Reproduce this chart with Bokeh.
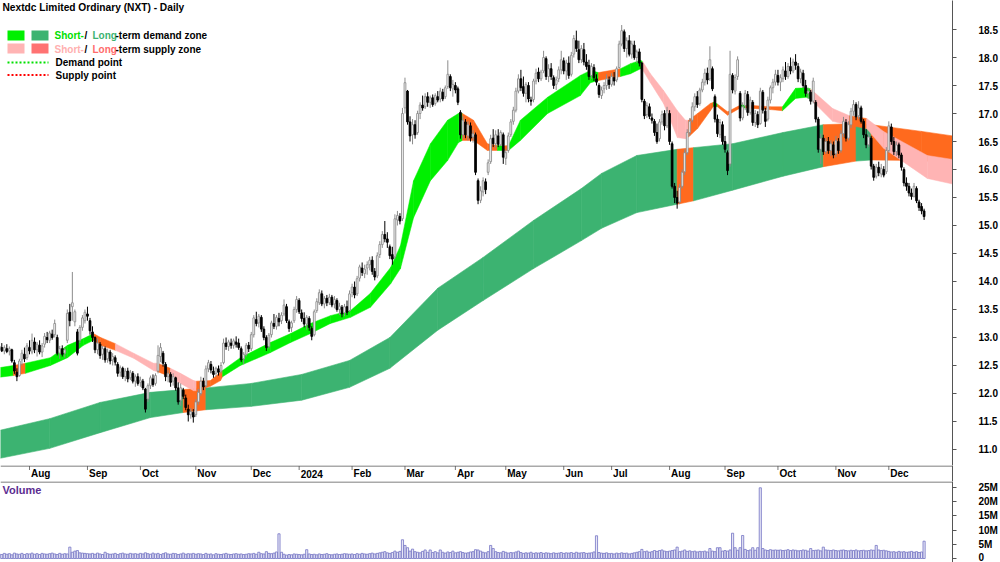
import pandas as pd
from bokeh.plotting import figure
from bokeh.layouts import column
from bokeh.models import Range1d, FixedTicker, Label, Span, PrintfTickFormatter
from bokeh.core.properties import value
from bokeh.embed import file_html
from bokeh.resources import INLINE

# ---------------- data ----------------
holidays = ["2023-12-25", "2023-12-26", "2024-01-01", "2024-01-26",
            "2024-03-29", "2024-04-01", "2024-04-25", "2024-06-10"]
month_labels = ["Aug", "Sep", "Oct", "Nov", "Dec", "2024", "Feb", "Mar", "Apr",
                "May", "Jun", "Jul", "Aug", "Sep", "Oct", "Nov", "Dec"]

opens = [
 12.78,12.82,12.76,12.80,12.76,12.78,12.55,12.38,12.32,12.60,12.70,12.64,
 12.82,12.74,12.92,12.78,12.86,12.74,12.88,13.00,12.95,13.06,13.05,13.00,12.72,12.80,12.72,12.95,13.45,13.55,13.28,13.10,12.95,13.18,13.30,
 13.42,13.30,13.10,13.00,12.78,12.88,12.70,12.80,12.62,12.74,12.60,12.64,12.52,12.38,12.45,12.30,12.40,12.28,12.36,12.22,12.30,
 12.20,12.22,12.08,11.90,12.14,12.26,12.18,12.40,12.66,12.72,12.52,12.30,12.34,12.22,12.28,12.10,11.88,12.06,11.92,11.72,11.62,11.66,
 11.62,11.85,12.00,12.22,12.14,12.44,12.52,12.40,12.36,12.44,12.40,12.55,12.90,12.84,12.90,12.86,12.92,12.90,12.80,12.62,12.70,12.86,
 12.80,13.05,13.32,13.26,13.36,13.15,13.00,12.84,13.05,13.25,13.20,13.34,13.30,13.42,13.55,13.28,13.18,13.30,13.50,
 13.66,13.44,13.34,13.24,13.34,13.16,13.05,13.48,13.62,13.78,13.60,13.70,13.62,13.72,13.60,13.66,13.50,13.54,13.44,13.55,13.48,
 13.80,13.90,13.78,14.06,14.24,14.14,14.24,14.30,14.38,14.18,14.10,14.48,14.66,14.84,14.76,14.62,14.48,14.44,15.10,15.16,15.12,
 17.10,17.40,16.85,16.62,16.80,16.66,17.00,17.15,17.12,17.30,17.20,17.28,17.18,17.30,17.26,17.38,17.30,17.48,17.66,17.44,
 17.50,17.44,17.02,16.62,16.85,16.60,16.78,16.58,16.62,15.80,15.45,15.60,15.78,15.95,16.14,16.56,16.46,16.60,16.44,16.62,
 16.20,16.34,16.62,16.86,17.06,17.40,17.62,17.48,17.36,17.50,17.24,17.25,17.58,17.74,17.62,17.76,17.98,17.66,17.80,17.64,17.52,17.62,17.78,
 17.94,17.76,17.90,17.70,18.06,18.30,18.14,17.96,18.14,17.92,17.86,17.68,17.82,17.62,17.50,17.32,17.44,17.50,17.60,
 17.52,17.64,17.60,17.82,18.24,18.46,18.16,18.30,18.06,18.22,18.00,18.10,17.90,17.22,16.98,17.12,16.92,16.86,16.66,16.55,16.85,17.00,16.78,
 17.00,16.46,15.70,15.50,15.42,15.70,15.96,16.30,16.66,16.88,17.12,17.30,17.18,17.42,17.56,17.72,17.62,17.80,17.30,16.90,16.62,16.80,
 16.50,16.30,16.10,17.68,17.40,17.66,17.36,16.92,17.14,17.34,17.02,17.20,16.84,16.98,16.82,17.38,17.04,16.90,17.24,17.46,17.56,
 17.68,17.56,17.62,17.76,17.66,17.84,17.76,17.92,17.84,17.62,17.72,17.50,17.36,17.38,17.22,17.20,16.90,16.36,16.56,16.32,16.50,16.34,16.44,
 16.28,16.50,16.34,16.64,16.84,16.56,16.80,17.04,17.16,16.96,17.10,16.86,16.62,16.44,16.56,16.06,15.88,16.04,15.92,16.00,15.96,
 16.34,16.76,16.50,16.32,16.44,16.26,16.00,15.76,15.70,15.58,15.52,15.66,15.42,15.34,15.26]

highs = [
 12.88,12.90,12.86,12.88,12.84,12.80,12.60,12.45,12.62,12.78,12.82,12.90,
 12.95,13.07,13.00,12.92,12.95,12.90,13.08,13.10,13.12,13.14,13.32,13.05,12.85,12.86,12.82,13.50,13.60,14.17,13.50,13.15,13.22,13.40,13.50,
 13.55,13.35,13.20,13.02,12.98,12.92,12.85,12.84,12.80,12.78,12.72,12.68,12.56,12.50,12.48,12.45,12.46,12.42,12.40,12.34,12.36,
 12.30,12.26,12.10,12.18,12.32,12.34,12.36,12.86,12.90,12.76,12.56,12.42,12.38,12.36,12.30,12.20,12.18,12.10,11.98,11.80,11.74,11.72,
 11.90,12.08,12.30,12.28,12.50,12.60,12.58,12.48,12.48,12.50,12.56,12.98,13.00,12.96,12.98,12.98,13.02,12.98,12.84,12.74,12.90,12.92,
 13.10,13.40,13.46,13.42,13.40,13.20,13.04,13.08,13.30,13.42,13.40,13.44,13.45,13.68,13.60,13.32,13.30,13.55,13.74,
 13.70,13.50,13.45,13.40,13.38,13.20,13.50,13.70,13.86,13.84,13.74,13.76,13.78,13.76,13.74,13.70,13.62,13.58,13.60,13.66,13.84,
 13.96,14.00,14.10,14.30,14.34,14.30,14.36,14.44,14.45,14.24,14.52,14.72,14.90,15.08,14.88,14.66,14.62,15.20,15.26,15.22,17.10,
 17.64,17.42,16.95,16.90,16.88,17.05,17.20,17.32,17.36,17.38,17.32,17.34,17.36,17.40,17.46,17.44,17.50,17.95,17.70,17.60,
 17.56,17.48,17.06,16.95,16.90,16.86,16.84,16.70,16.66,15.84,15.70,15.86,15.84,16.18,16.62,16.72,16.70,16.72,16.70,16.66,
 16.36,16.66,16.90,17.12,17.46,17.70,17.78,17.66,17.56,17.56,17.30,17.62,17.80,17.82,17.78,18.12,18.02,17.88,17.90,17.68,17.66,17.84,18.12,
 18.00,17.96,18.02,18.10,18.40,18.48,18.30,18.22,18.26,18.06,17.96,17.90,17.88,17.70,17.54,17.48,17.56,17.70,17.66,
 17.72,17.74,17.84,18.30,18.58,18.50,18.36,18.40,18.30,18.30,18.14,18.16,17.92,17.26,17.20,17.18,17.00,16.90,16.82,16.90,17.05,17.06,17.12,
 17.06,16.50,15.76,15.62,15.74,16.00,16.36,16.72,16.92,17.20,17.36,17.40,17.46,17.62,17.80,17.82,18.20,17.84,17.34,16.98,16.90,16.86,
 16.60,16.34,18.12,17.72,17.70,18.02,17.40,17.20,17.42,17.40,17.30,17.24,17.06,17.04,17.46,17.42,17.10,17.30,17.50,17.62,17.78,
 17.78,17.70,17.84,17.92,17.90,18.00,17.98,18.06,17.90,17.80,17.78,17.60,17.46,17.42,17.64,17.24,16.94,16.64,16.62,16.56,16.58,16.52,16.50,
 16.60,16.56,16.70,16.94,16.90,16.86,17.10,17.24,17.20,17.22,17.14,16.90,16.72,16.64,16.60,16.10,16.10,16.14,16.10,16.06,16.40,
 16.86,16.82,16.58,16.50,16.48,16.30,16.04,15.86,15.76,15.66,15.76,15.70,15.46,15.40,15.30]

lows = [
 12.72,12.74,12.70,12.72,12.68,12.55,12.35,12.22,12.30,12.50,12.56,12.60,
 12.70,12.70,12.72,12.66,12.70,12.65,12.82,12.90,12.90,12.96,13.00,12.68,12.62,12.66,12.64,12.90,13.20,13.30,13.20,12.68,12.90,13.12,13.25,
 13.30,13.05,12.92,12.72,12.70,12.62,12.60,12.55,12.55,12.52,12.50,12.50,12.30,12.30,12.26,12.22,12.20,12.24,12.18,12.12,12.14,
 12.12,12.06,11.66,11.85,12.08,12.12,12.14,12.36,12.56,12.48,12.22,12.20,12.12,12.14,12.05,11.80,11.78,11.90,11.70,11.50,11.55,11.48,
 11.58,11.80,11.96,12.06,12.10,12.38,12.36,12.28,12.30,12.32,12.36,12.52,12.78,12.76,12.80,12.80,12.82,12.78,12.56,12.52,12.66,12.74,
 12.76,13.00,13.20,13.18,13.10,12.95,12.76,12.80,13.00,13.15,13.14,13.20,13.24,13.38,13.26,13.10,13.10,13.26,13.44,
 13.42,13.28,13.18,13.14,13.12,12.95,13.02,13.44,13.58,13.56,13.52,13.56,13.58,13.54,13.52,13.46,13.40,13.36,13.38,13.40,13.46,
 13.72,13.70,13.74,14.00,14.10,14.06,14.12,14.20,14.12,14.02,14.06,14.42,14.60,14.70,14.60,14.40,14.30,14.40,15.00,15.02,15.08,
 17.00,16.80,16.50,16.45,16.55,16.62,16.90,17.05,17.08,17.12,17.10,17.12,17.14,17.20,17.20,17.22,17.26,17.44,17.40,17.30,
 17.36,17.15,16.55,16.55,16.56,16.52,16.50,16.48,15.90,15.38,15.40,15.52,15.56,15.90,16.10,16.40,16.38,16.40,16.42,16.10,
 16.08,16.30,16.58,16.80,17.02,17.36,17.40,17.30,17.20,17.20,17.14,17.20,17.52,17.56,17.58,17.72,17.60,17.56,17.60,17.44,17.42,17.56,17.70,
 17.70,17.60,17.62,17.66,18.00,18.10,17.90,17.90,17.86,17.78,17.60,17.62,17.58,17.50,17.28,17.26,17.36,17.42,17.44,
 17.48,17.50,17.56,17.80,18.20,18.10,18.00,18.02,17.98,17.96,17.90,17.84,17.20,16.90,16.92,16.90,16.82,16.60,16.46,16.50,16.80,16.70,16.74,
 16.44,15.66,15.40,15.30,15.38,15.66,15.90,16.26,16.60,16.84,17.04,17.10,17.14,17.38,17.50,17.52,17.58,17.40,16.84,16.58,16.56,16.44,
 16.30,15.90,16.05,17.36,17.34,17.60,16.86,16.88,17.06,16.96,16.98,16.78,16.76,16.74,16.80,17.00,16.76,16.86,17.18,17.36,17.50,
 17.50,17.40,17.56,17.60,17.62,17.70,17.72,17.78,17.56,17.54,17.46,17.30,17.26,17.16,17.18,16.84,16.30,16.10,16.26,16.28,16.28,16.24,16.20,
 16.22,16.28,16.30,16.58,16.50,16.52,16.74,16.96,16.88,16.90,16.82,16.56,16.38,16.40,16.00,15.80,15.84,15.88,15.86,15.86,15.92,
 16.30,16.44,16.26,16.24,16.20,15.98,15.70,15.62,15.52,15.46,15.50,15.40,15.26,15.20,15.10]

closes = [
 12.84,12.76,12.82,12.75,12.80,12.58,12.40,12.30,12.58,12.72,12.62,12.85,
 12.76,12.95,12.78,12.88,12.74,12.85,13.02,12.96,13.08,13.00,13.25,12.72,12.80,12.70,12.78,13.43,13.30,13.62,13.46,12.72,13.18,13.35,13.45,
 13.38,13.12,13.00,12.78,12.90,12.68,12.80,12.60,12.74,12.58,12.66,12.56,12.36,12.46,12.30,12.40,12.26,12.38,12.22,12.30,12.18,
 12.24,12.10,11.72,12.14,12.28,12.16,12.32,12.68,12.82,12.54,12.30,12.36,12.20,12.30,12.10,11.85,12.10,11.95,11.75,11.62,11.68,11.58,
 11.85,12.02,12.22,12.12,12.44,12.55,12.42,12.34,12.45,12.38,12.50,12.90,12.84,12.92,12.86,12.94,12.88,12.82,12.60,12.70,12.86,12.80,
 13.05,13.35,13.25,13.38,13.15,13.00,12.82,13.04,13.26,13.20,13.36,13.28,13.40,13.58,13.30,13.16,13.26,13.50,13.68,
 13.46,13.34,13.24,13.36,13.18,13.02,13.46,13.64,13.80,13.60,13.70,13.62,13.72,13.58,13.68,13.50,13.56,13.42,13.55,13.45,13.78,
 13.90,13.76,14.05,14.26,14.16,14.22,14.30,14.38,14.18,14.08,14.46,14.66,14.84,14.76,14.70,14.46,14.40,15.12,15.18,15.08,17.00,
 17.55,16.85,16.60,16.80,16.62,17.00,17.15,17.10,17.30,17.20,17.28,17.16,17.32,17.24,17.40,17.26,17.46,17.70,17.46,17.52,
 17.42,17.20,16.62,16.88,16.62,16.80,16.56,16.64,15.95,15.45,15.62,15.80,15.64,16.12,16.55,16.46,16.62,16.45,16.66,16.22,
 16.30,16.60,16.85,17.06,17.40,17.62,17.46,17.36,17.52,17.26,17.22,17.58,17.72,17.62,17.74,18.00,17.66,17.80,17.66,17.50,17.60,17.78,17.96,
 17.76,17.90,17.68,18.04,18.34,18.16,17.96,18.16,17.92,17.84,17.66,17.84,17.64,17.56,17.34,17.42,17.50,17.62,17.52,
 17.66,17.58,17.80,18.24,18.48,18.16,18.30,18.06,18.24,18.00,18.10,17.90,17.25,16.96,17.14,16.95,16.88,16.66,16.50,16.85,16.98,16.78,17.05,
 16.50,15.70,15.50,15.40,15.68,15.95,16.30,16.66,16.86,17.12,17.30,17.16,17.42,17.56,17.72,17.60,17.96,17.44,16.90,16.64,16.84,16.50,
 16.36,15.98,17.70,17.42,17.64,17.96,16.92,17.12,17.36,17.02,17.24,16.84,17.00,16.80,17.40,17.06,16.86,17.24,17.46,17.56,17.70,
 17.56,17.64,17.78,17.66,17.84,17.76,17.92,17.86,17.62,17.74,17.50,17.36,17.40,17.22,17.58,16.90,16.36,16.56,16.32,16.50,16.34,16.46,16.26,
 16.52,16.34,16.64,16.86,16.56,16.80,17.04,17.16,16.94,17.10,16.86,16.62,16.44,16.58,16.06,15.86,16.04,15.94,16.02,15.90,16.34,
 16.78,16.50,16.32,16.44,16.26,16.04,15.76,15.70,15.58,15.52,15.70,15.44,15.32,15.26,15.16]

volume_m = [
 1.6,1.4,1.8,1.5,1.7,1.3,1.9,1.6,1.5,1.8,1.4,1.7,
 1.6,1.9,1.5,1.7,1.4,1.8,1.6,1.5,1.7,1.9,1.6,1.4,1.8,1.5,1.7,1.6,4.0,2.2,2.6,2.8,2.0,1.9,1.8,
 1.7,1.6,1.8,1.5,1.9,1.6,1.4,2.2,1.7,1.5,1.6,1.8,1.4,1.7,1.9,1.6,1.5,1.8,1.6,1.7,1.5,
 1.8,1.6,2.0,1.7,1.5,1.9,1.6,1.8,1.4,1.7,2.0,1.6,1.5,1.8,1.7,1.4,1.6,1.9,1.5,1.7,1.6,1.8,
 1.5,1.7,1.6,1.4,1.8,1.5,1.6,1.3,1.7,1.5,1.4,1.6,1.8,1.5,1.4,1.6,1.7,1.5,1.6,1.4,1.5,1.7,
 1.6,1.8,1.5,2.2,1.7,1.6,2.4,1.8,1.7,1.9,2.3,8.7,2.2,1.5,1.2,1.4,1.3,1.6,1.5,
 1.4,1.3,1.5,3.1,1.6,1.4,1.5,1.3,1.6,1.4,1.5,1.7,1.4,1.3,1.5,1.6,1.4,1.5,1.7,1.6,1.5,
 1.6,1.4,1.7,1.5,1.8,1.6,1.5,1.7,1.9,1.6,1.8,2.0,2.2,2.4,2.0,1.8,2.1,2.6,2.2,2.5,6.6,
 4.6,3.8,2.6,3.3,2.4,2.2,2.0,2.5,3.0,2.2,3.0,2.1,2.4,2.0,3.0,2.2,1.9,2.3,2.1,2.6,
 2.0,2.2,2.4,2.1,1.9,2.0,2.3,2.4,3.1,3.0,2.6,2.2,2.0,2.4,4.6,3.5,2.4,2.1,2.0,2.5,
 2.2,1.9,2.1,2.0,2.3,2.6,2.1,1.8,2.0,1.9,2.2,1.8,2.0,1.9,2.1,1.8,2.0,1.9,1.7,2.0,1.8,1.9,2.1,
 1.8,2.0,1.9,2.1,1.8,2.2,1.9,2.0,2.1,1.8,1.9,2.0,2.3,8.0,2.1,1.9,1.8,2.0,1.7,
 1.8,1.6,1.9,1.7,2.0,1.8,1.9,1.6,1.8,2.0,2.2,2.4,3.2,2.4,2.6,2.2,2.4,2.8,2.5,2.8,3.0,2.6,2.4,
 2.6,2.8,3.0,4.0,2.4,2.6,3.0,2.5,2.7,2.4,2.6,2.3,2.5,2.4,2.6,2.3,3.5,2.6,2.4,3.8,3.8,2.6,
 2.8,2.6,3.0,8.9,3.8,2.9,3.8,8.1,3.2,2.8,3.0,3.8,2.9,3.8,24.9,3.5,3.0,2.8,3.1,2.9,3.0,
 2.9,3.0,2.8,2.9,3.1,2.8,3.0,2.9,2.7,2.8,3.0,2.9,2.6,3.5,2.8,2.9,3.0,2.7,4.0,3.0,2.9,2.8,3.0,
 2.8,2.7,2.9,3.0,2.8,2.7,2.9,2.8,3.0,2.7,2.8,2.9,2.7,2.8,3.0,2.9,4.6,3.0,2.8,2.9,2.7,
 2.5,2.3,2.4,2.2,2.5,2.3,2.4,2.2,2.3,2.5,2.2,2.4,2.1,2.3,6.1]

# short-term zone (x = trading-day index), upper / lower edge, state of following segment
st_x = [0, 5.6, 10.4, 20.3, 27.1, 33.4, 37.4, 40.2, 46.1, 53.3,
        61.2, 62.8, 67.9, 71.9, 77.1, 78.3, 83.8, 87.8, 88.6, 95.7,
        107.6, 115.6, 123.5, 131.4, 139.4, 147.3, 155.3, 159.2, 164.4, 171.1,
        177.9, 182.2, 183.8, 188.2, 193.7, 197.7, 200.0, 202.1, 206.8, 217.6,
        230.6, 234.6, 237.8, 246.5, 250.5, 254.5, 255.3, 258.4, 263.6, 269.1,
        272.3, 273.5, 277.1, 282.2, 283.4, 285.0, 289.0, 294.1, 296.1, 306.0,
        310.8, 316.0, 320.3, 321.9, 330.7, 337.4, 344.2, 350.9, 368.3, 378.3]
st_hi = [12.46,12.50,12.54,12.64,12.86,12.98,13.07,13.00,12.89,12.72,
         12.54,12.54,12.45,12.36,12.23,12.22,12.23,12.38,12.41,12.64,
         12.91,13.07,13.25,13.39,13.48,13.79,14.25,14.64,15.80,16.46,
         16.88,17.00,17.00,16.88,16.46,16.43,16.42,16.43,16.88,17.29,
         17.68,17.77,17.73,17.80,17.89,17.95,17.93,17.71,17.41,17.05,
         16.88,16.88,17.00,17.18,17.20,17.17,17.03,17.15,17.15,17.12,
         17.12,17.45,17.46,17.44,17.09,16.96,16.91,16.68,16.25,16.18]
st_lo = [12.29,12.32,12.36,12.50,12.64,12.86,12.95,12.86,12.77,12.63,
         12.41,12.39,12.30,12.18,12.05,12.05,12.13,12.23,12.30,12.50,
         12.73,12.91,13.07,13.25,13.36,13.54,13.96,14.23,15.14,15.80,
         16.16,16.48,16.52,16.52,16.34,16.34,16.34,16.34,16.52,17.00,
         17.32,17.55,17.59,17.66,17.71,17.80,17.78,17.55,17.18,16.57,
         16.55,16.58,16.73,17.05,17.13,17.12,16.97,17.10,17.10,17.07,
         17.05,17.27,17.29,17.26,16.86,16.79,16.73,16.38,15.84,15.74]
st_state = list("goggggoopp" "popppooogg" "gggggggggg" "ggooogoggg"
                "ggogggpppp" "pooogoogoo" "gggppoppp")

# long-term zone
lt_x = [0, 20, 40, 60, 73, 82, 100, 120, 139, 155, 174, 192, 212, 231, 239,
        253, 269, 275.5, 291, 311, 327, 340, 346, 366, 378.3]
lt_hi = [11.34, 11.55, 11.84, 12.02, 12.07, 12.10, 12.18, 12.34, 12.59, 13.00,
         13.88, 14.43, 15.09, 15.66, 15.93, 16.25, 16.36, 16.39, 16.46, 16.66,
         16.80, 16.82, 16.80, 16.68, 16.60]
lt_lo = [10.84, 11.02, 11.30, 11.57, 11.66, 11.71, 11.77, 11.88, 12.11, 12.45,
         13.13, 13.66, 14.23, 14.73, 14.95, 15.23, 15.38, 15.44, 15.63, 15.88,
         16.05, 16.15, 16.17, 16.16, 16.10]
lt_state = list("gggg" "s" "ggggggggggg" "s" "ggg" "s" "g" "ss")

price_ticks = [11.0, 11.5, 12.0, 12.5, 13.0, 13.5, 14.0, 14.5, 15.0, 15.5, 16.0, 16.5, 17.0, 17.5, 18.0, 18.5]
vol_ticks = [0, 5000000, 10000000, 15000000, 20000000, 25000000]
vol_labels = ["0", "5M", "10M", "15M", "20M", "25M"]

# ---------------- derived ----------------
dates = pd.bdate_range("2023-07-14", "2024-12-20")
dates = dates[~dates.isin(pd.to_datetime(holidays))]
n = len(closes)
for name, arr in [("opens", opens), ("highs", highs), ("lows", lows), ("volume", volume_m)]:
    assert len(arr) == n, (name, len(arr), n)
assert len(dates) == n, (len(dates), n)
idx = list(range(n))
month_ticks = [i for i in range(1, n) if dates[i].month != dates[i - 1].month]

FONT = "Liberation Sans"
X0, X1 = 0.49, 378.27
Y0, Y1 = 10.714, 19.018
FW, FH = 952.0, 465.0
AX = "#555555"


def sx(px):
    return X0 + px * (X1 - X0) / FW


def sy(py):
    return Y1 - py * (Y1 - Y0) / FH


def style_right_axis(ax):
    ax.axis_line_color = AX
    ax.major_tick_line_color = AX
    ax.major_tick_in = 0
    ax.major_tick_out = 4
    ax.major_label_standoff = 22
    ax.major_label_text_font = FONT
    ax.major_label_text_font_style = "bold"
    ax.major_label_text_font_size = "10px"
    ax.major_label_text_color = "black"


# ---------------- price panel ----------------
p = figure(width=1000, height=465, x_range=Range1d(X0, X1), y_range=Range1d(Y0, Y1),
           output_backend="svg", toolbar_location=None, y_axis_location="right",
           x_axis_location=None,
           min_border_left=0, min_border_right=48, min_border_top=0, min_border_bottom=0)
p.outline_line_color = None
p.grid.visible = False

GREEN_S = "#00F000"
GREEN_L = "#3CB371"
PINK = "#FFB4B4"
ORANGE = "#FF6A1E"
st_colors = {"g": GREEN_S, "p": PINK, "o": ORANGE}
lt_colors = {"g": GREEN_L, "s": ORANGE}


def band(xs, his, los, states, cmap):
    pxs, pys, cols = [], [], []
    for k in range(len(xs) - 1):
        pxs.append([xs[k], xs[k], xs[k + 1], xs[k + 1]])
        pys.append([los[k], his[k], his[k + 1], los[k + 1]])
        cols.append(cmap[states[k]])
    return pxs, pys, cols


lx, ly, lc = band(lt_x, lt_hi, lt_lo, lt_state, lt_colors)
p.patches(lx, ly, fill_color=lc, line_color=lc, line_width=0.6)
sxs, sys_, sc = band(st_x, st_hi, st_lo, st_state, st_colors)
p.patches(sxs, sys_, fill_color=sc, line_color=sc, line_width=0.5)

up = [c >= o for o, c in zip(opens, closes)]
GREY = "#8c8c8c"
wick_col = [GREY if u else "black" for u in up]
p.segment(x0=idx, y0=lows, x1=idx, y1=highs, line_color=wick_col, line_width=1)
tops = [max(o, c) for o, c in zip(opens, closes)]
bots = [min(o, c) for o, c in zip(opens, closes)]
p.vbar(x=idx, width=0.7, top=tops, bottom=bots,
       fill_color=["white" if u else "black" for u in up],
       line_color=[GREY if u else "black" for u in up], line_width=0.9)

ya = p.yaxis[0]
ya.ticker = FixedTicker(ticks=price_ticks, minor_ticks=[])
ya.formatter = PrintfTickFormatter(format="%.1f")
style_right_axis(ya)


def lab(px, py, text, color="black", size="10px"):
    p.add_layout(Label(x=sx(px), y=sy(py), text=text, text_color=color, text_font=FONT,
                       text_font_style="bold", text_font_size=size,
                       text_baseline="middle", text_align="left"))


lab(2, 7, "Nextdc Limited Ordinary (NXT) - Daily", size="10.2px")
p.quad(left=[sx(7), sx(31), sx(7), sx(31)], right=[sx(24), sx(48), sx(24), sx(48)],
       top=[sy(30), sy(30), sy(43), sy(43)], bottom=[sy(40), sy(40), sy(53), sy(53)],
       fill_color=[GREEN_S, GREEN_L, "#FFB4B4", "#FF7272"], line_color=None)
p.line([sx(7), sx(48)], [sy(62), sy(62)], line_color="#00E000", line_width=2, line_dash="2 2")
p.line([sx(7), sx(48)], [sy(74.5), sy(74.5)], line_color="#FF0000", line_width=2, line_dash="2 2")
lab(54, 35, "Short-", "#00E000")
lab(84, 35, "/")
lab(92, 35, "Long", GREEN_L)
lab(115, 35, "-term demand zone")
lab(54, 48.5, "Short-", "#FFB0B0")
lab(84, 48.5, "/")
lab(92, 48.5, "Long", "#FF6B6B")
lab(115, 48.5, "-term supply zone")
lab(55, 62, "Demand point")
lab(55, 74.5, "Supply point")

# ---------------- month label strip ----------------
SH = 16
s = figure(width=1000, height=SH, x_range=p.x_range, y_range=Range1d(0, SH),
           output_backend="svg", toolbar_location=None, y_axis_location="right",
           x_axis_location=None,
           min_border_left=0, min_border_right=48, min_border_top=0, min_border_bottom=0)
s.outline_line_color = None
s.grid.visible = False
s.yaxis[0].ticker = FixedTicker(ticks=[], minor_ticks=[])
s.yaxis[0].axis_line_color = AX
s.yaxis[0].major_label_text_font_size = "0px"
s.add_layout(Span(location=SH - 0.5, dimension="width", line_color=AX, line_width=1))
s.segment(x0=month_ticks, y0=[SH - 0.5] * len(month_ticks), x1=month_ticks,
          y1=[SH - 4.5] * len(month_ticks), line_color="#777777", line_width=1)
s.text(x=month_ticks, y=[SH - 8.3] * len(month_ticks), text=month_labels, x_offset=1.5,
       text_font=value(FONT), text_font_style="bold", text_font_size="10px",
       text_color="black", text_align="left", text_baseline="middle")

# ---------------- volume panel ----------------
VH = 81
V0 = -4 * 25e6 / 71
V1 = (VH - 4) * 25e6 / 71
v = figure(width=1000, height=VH, x_range=p.x_range, y_range=Range1d(V0, V1),
           output_backend="svg", toolbar_location=None, y_axis_location="right",
           x_axis_location=None,
           min_border_left=0, min_border_right=48, min_border_top=0, min_border_bottom=0)
v.outline_line_color = None
v.grid.visible = False
vols = [m * 1e6 for m in volume_m]
v.vbar(x=idx, width=0.85, top=vols, bottom=0, fill_color="#E6E6F6",
       line_color="#7474C4", line_width=0.8)
v.add_layout(Span(location=V1 - 0.5 * (V1 - V0) / VH, dimension="width",
                  line_color=AX, line_width=1))
vy = v.yaxis[0]
vy.ticker = FixedTicker(ticks=vol_ticks, minor_ticks=[])
vy.major_label_overrides = {t: lbl for t, lbl in zip(vol_ticks, vol_labels)}
style_right_axis(vy)
v.add_layout(Label(x=X0 + 2 * (X1 - X0) / FW, y=V1 - 2 * (V1 - V0) / VH, text="Volume",
                   text_color="#5C2D91", text_font=FONT, text_font_style="bold",
                   text_font_size="11px", text_baseline="top", text_align="left"))

layout = column(p, s, v, spacing=0)
open("out.html", "w").write(file_html(layout, INLINE))
